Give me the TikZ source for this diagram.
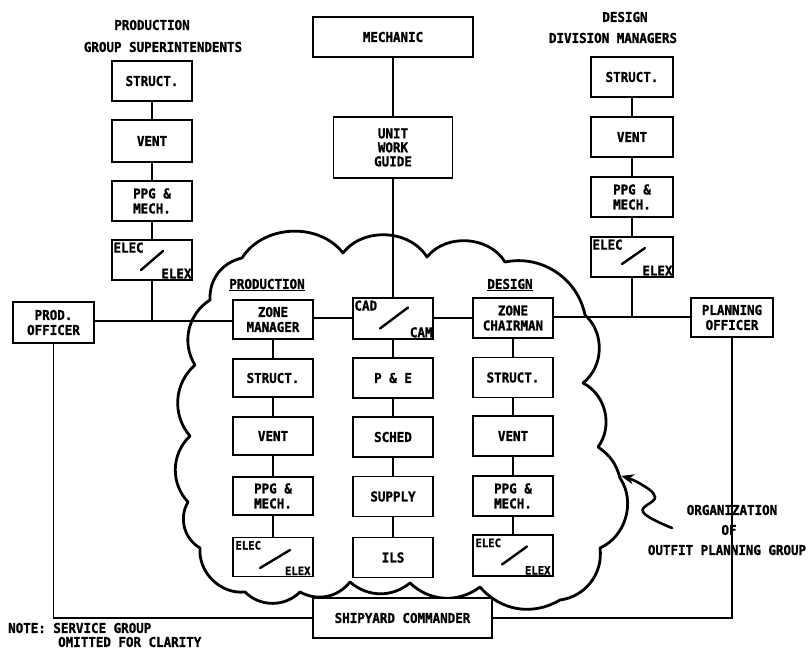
\documentclass[tikz,border=0pt]{standalone}
\usepackage{fontspec}
\setmainfont{DejaVu Sans Mono}[BoldFont={DejaVu Sans Mono Bold}, BoldFeatures={FakeBold=1.2, FakeStretch=0.92}]
\usetikzlibrary{arrows.meta}
\begin{document}
\begin{tikzpicture}[x=1pt,y=1pt,
  every node/.style={font=\bfseries\fontsize{13.6}{15}\selectfont},
  bx/.style={draw, line width=1.4pt, fill=white, inner sep=1pt, align=center,
             minimum width=80pt, minimum height=40pt},
  ln/.style={line width=1.3pt},
  cloudl/.style={line width=2.8pt, line join=round, line cap=round},
  slashl/.style={line width=2.4pt, line cap=round},
  txt/.style={inner sep=0pt},
  sm/.style={font=\bfseries\fontsize{11.5}{12}\selectfont},
  slbox/.style 2 args={bx,
     label={[txt,anchor=north west,xshift=2pt,yshift=-3pt]north west:#1},
     label={[txt,anchor=south east,xshift=-1pt,yshift=2pt]south east:#2}},
  slboxs/.style 2 args={bx,
     label={[txt,sm,anchor=north west,xshift=3pt,yshift=-4pt]north west:#1},
     label={[txt,sm,anchor=south east,xshift=-3pt,yshift=2pt]south east:#2}},
]
\useasboundingbox (0,0) rectangle (811,651);

% ---------- cloud ----------
\draw[cloudl]
 (242,393) to[bend left=55] (343,398) to[bend left=55] (427,394)
 to[bend left=55] (505,389) to[bend left=45] (585,336)
 to[bend left=50] (583,268) to[bend left=50] (598,204)
 to[bend left=20] (620,173) to[bend left=50] (600,103)
 to[bend left=45] (560,51) to[bend left=40] (480,64)
 to[bend left=40] (410,68) to[bend left=40] (350,69)
 to[bend left=40] (300,59) to[bend left=45] (245,59)
 to[bend left=50] (200,103) to[bend left=45] (188,149)
 to[bend left=45] (190,215) to[bend left=45] (195,286)
 to[bend left=45] (210,351) to[bend left=40] (242,393);

% ---------- titles ----------
\node[txt] (ttl1) at (152,626) {PRODUCTION};
\node[txt] (ttl2) at (163,604) {GROUP SUPERINTENDENTS};
\node[txt] (ttr1) at (625,634) {DESIGN};
\node[txt] (ttr2) at (613,613) {DIVISION MANAGERS};

% ---------- top left column ----------
\node[bx] (ls1) at (152,570) {STRUCT.};
\node[bx, minimum height=42pt] (lv1) at (152,510) {VENT};
\node[bx] (lp1) at (152,450) {PPG \&\\MECH.};
\node[slbox={ELEC}{ELEX}] (le1) at (152,391) {};
\draw[slashl] ([shift={(-11,-10)}]le1.center) -- ([shift={(11,9)}]le1.center);

% ---------- top right column ----------
\node[bx, minimum width=82pt] (rs1) at (632,574) {STRUCT.};
\node[bx, minimum width=82pt] (rv1) at (632,514) {VENT};
\node[bx, minimum width=82pt] (rp1) at (632,454) {PPG \&\\MECH.};
\node[slbox={ELEC}{ELEX}, minimum width=82pt] (re1) at (632,394) {};
\draw[slashl] ([shift={(-10,-7)}]re1.center) -- ([shift={(13,9)}]re1.center);

% ---------- centre top ----------
\node[bx, minimum width=160pt] (mech) at (393,614) {MECHANIC};
\node[bx, minimum width=119pt, minimum height=61pt, font=\bfseries\fontsize{13.6}{14}\selectfont] (uwg) at (393,503.5) {UNIT\\WORK\\GUIDE};

% ---------- main row ----------
\node[bx, minimum width=81pt, minimum height=41pt] (prod) at (53.5,328.5) {PROD.\\OFFICER};
\node[bx, minimum height=39pt] (zm) at (273,331.5) {ZONE\\MANAGER};
\node[slbox={CAD}{CAM}, minimum height=41pt] (cad) at (393,332.5) {};
\draw[slashl] ([shift={(-13,-10)}]cad.center) -- ([shift={(15,11)}]cad.center);
\node[bx] (zc) at (513,333) {ZONE\\CHAIRMAN};
\node[bx, minimum width=82pt, minimum height=39pt] (po) at (732,333.5) {PLANNING\\OFFICER};

\node[txt] (hp) at (267,366) {\underline{PRODUCTION}};
\node[txt] (hd) at (510,366) {\underline{DESIGN}};

% ---------- inner production column ----------
\node[bx, minimum height=38pt] (ps) at (273,273) {STRUCT.};
\node[bx, minimum height=38pt] (pv) at (273,215) {VENT};
\node[bx, minimum height=38pt] (pp) at (273,155) {PPG \&\\MECH.};
\node[slboxs={ELEC}{ELEX}, minimum height=39pt] (pel) at (273,94) {};
\draw[slashl] ([shift={(-13,-11)}]pel.center) -- ([shift={(17,7)}]pel.center);

% ---------- inner middle column ----------
\node[bx] (pe) at (393,273) {P \& E};
\node[bx] (sched) at (393,214) {SCHED};
\node[bx] (supply) at (393,154.5) {SUPPLY};
\node[bx] (ils) at (393,93.5) {ILS};

% ---------- inner design column ----------
\node[bx] (ds) at (513,273.5) {STRUCT.};
\node[bx] (dv) at (513,215) {VENT};
\node[bx] (dp) at (513,155) {PPG \&\\MECH.};
\node[slboxs={ELEC}{ELEX}, minimum height=41pt] (del) at (513,95.5) {};
\draw[slashl] ([shift={(-11,-9)}]del.center) -- ([shift={(14,9)}]del.center);

% ---------- shipyard commander ----------
\node[bx, minimum width=179pt] (sc) at (402.5,33) {SHIPYARD COMMANDER};

% ---------- junctions ----------
\coordinate (lj) at (152,330);
\coordinate (cj) at (393,333);
\coordinate (rj) at (632,334);

% ---------- connectors ----------
\draw[ln] (ls1) -- (lv1) -- (lp1) -- (le1);
\draw[ln] (le1) -- (lj);
\draw[ln] (prod.east |- lj) -- (zm.west |- lj);
\draw[ln] (rs1) -- (rv1) -- (rp1) -- (re1);
\draw[ln] (re1) -- (rj);
\draw[ln] (zc.east |- rj) -- (po.west |- rj);
\draw[ln] (mech) -- (uwg) -- (cad);
\draw[ln] (zm.east |- cj) -- (cad.west |- cj);
\draw[ln] (cad.east |- cj) -- (zc.west |- cj);
\draw[ln] (zm) -- (ps) -- (pv) -- (pp) -- (pel);
\draw[ln] (cad) -- (pe) -- (sched) -- (supply) -- (ils);
\draw[ln] (zc) -- (ds) -- (dv) -- (dp) -- (del);
\draw[ln] (prod.south) |- (sc.west);
\draw[ln] (sc.east) -| (po.south);

% ---------- label and arrow ----------
\node[txt] (org) at (732,141) {ORGANIZATION};
\node[txt] (of) at (729,121) {OF};
\node[txt] (opg) at (727,101) {OUTFIT PLANNING GROUP};
\coordinate (sq) at (672,123);
\coordinate (tip) at (621,175);
\draw[line width=2.6pt, line cap=round, -{Stealth[length=13pt,width=10pt]}]
  plot[smooth, tension=0.7] coordinates {(sq) (643,139) (655,154) (639,168) (tip)};

% ---------- note ----------
\node[txt, anchor=west] (note1) at (8,23) {NOTE: SERVICE GROUP};
\node[txt, anchor=west] (note2) at (58,9) {OMITTED FOR CLARITY};
\end{tikzpicture}
\end{document}
